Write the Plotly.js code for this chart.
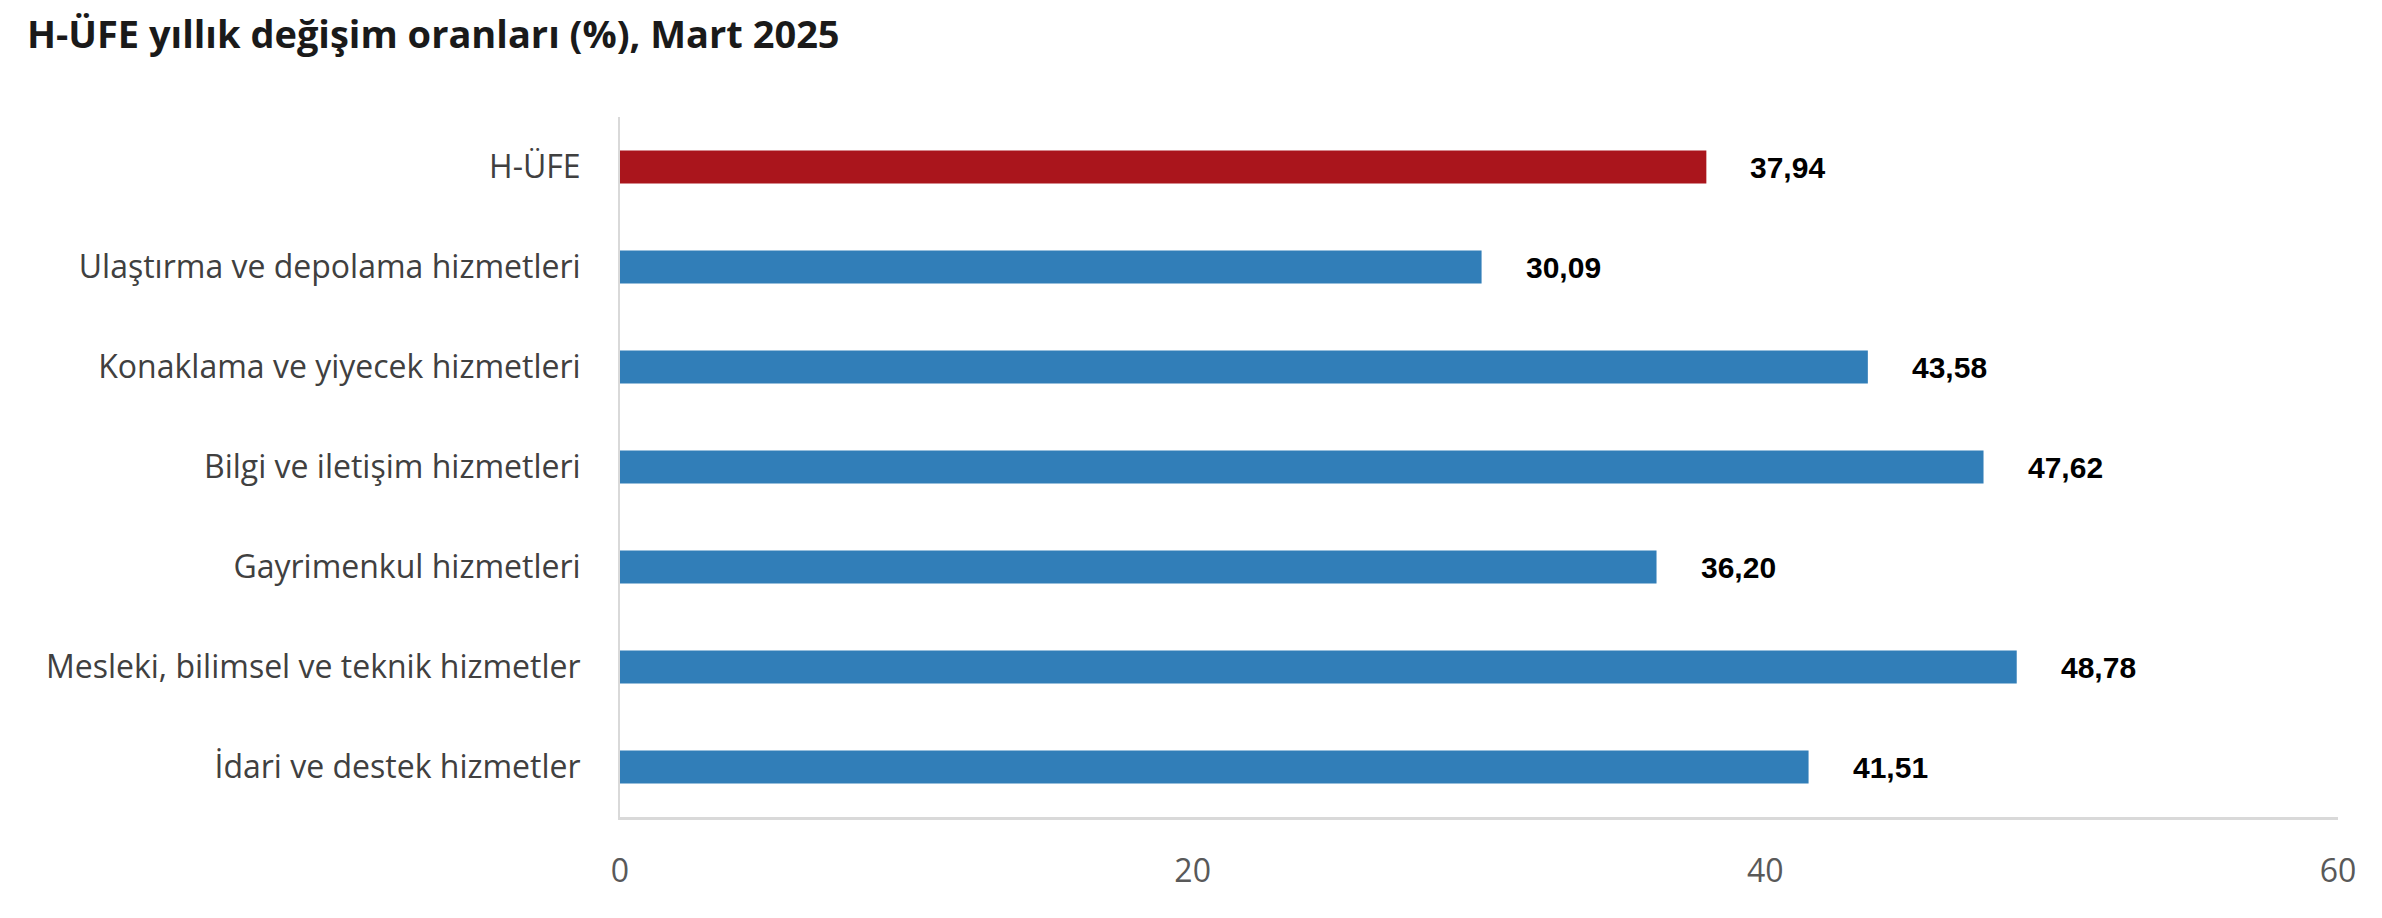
<!DOCTYPE html>
<html>
<head>
<meta charset="utf-8">
<script src="https://cdn.plot.ly/plotly-3.0.1.min.js"></script>
<style>
  html, body { margin: 0; padding: 0; background: #ffffff; }
  #chart { width: 2382px; height: 918px; }
</style>
</head>
<body>
<div id="chart"></div>
<script>
const categories = [
  "H-ÜFE",
  "Ulaştırma ve depolama hizmetleri",
  "Konaklama ve yiyecek hizmetleri",
  "Bilgi ve iletişim hizmetleri",
  "Gayrimenkul hizmetleri",
  "Mesleki, bilimsel ve teknik hizmetler",
  "İdari ve destek hizmetler"
];
const values = [37.94, 30.09, 43.58, 47.62, 36.20, 48.78, 41.51];
const barColors = ["#AA151C", "#317EB8", "#317EB8", "#317EB8", "#317EB8", "#317EB8", "#317EB8"];
const xTickValues = [0, 20, 40, 60];
const titleText = "H-ÜFE yıllık değişim oranları (%), Mart 2025";

const fmt = v => v.toFixed(2).replace('.', ',');

const trace = {
  type: 'bar',
  orientation: 'h',
  x: values,
  y: categories,
  width: 0.33,
  marker: { color: barColors },
  hoverinfo: 'skip'
};

const annotations = values.map((v, i) => ({
  x: v, y: categories[i], xref: 'x', yref: 'y',
  text: fmt(v), showarrow: false, xanchor: 'left', xshift: 42,
  font: { family: 'Liberation Sans, Arial, sans-serif', size: 30, color: '#000000', weight: 'bold' }
}));

const layout = {
  width: 2382, height: 918,
  paper_bgcolor: '#ffffff', plot_bgcolor: '#ffffff',
  margin: { l: 620, r: 44, t: 117, b: 101 },
  showlegend: false,
  title: {
    text: '<b>' + titleText + '</b>',
    x: 0.0113, xanchor: 'left', y: 0.962, yanchor: 'middle',
    font: { family: 'Open Sans, sans-serif', size: 38, color: '#1a1a1a' }
  },
  xaxis: {
    range: [0, 60], tickvals: xTickValues, ticktext: xTickValues.map(String),
    showgrid: false, zeroline: false,
    showline: true, linecolor: '#d9d9d9', linewidth: 3,
    ticks: '', ticklabelstandoff: 24,
    tickfont: { family: 'Open Sans, sans-serif', size: 32, color: '#595959' },
    fixedrange: true
  },
  yaxis: {
    type: 'category', autorange: 'reversed',
    showgrid: false, zeroline: false,
    showline: true, linecolor: '#d9d9d9', linewidth: 2,
    ticks: '', ticklabelstandoff: 31,
    tickfont: { family: 'Open Sans, sans-serif', size: 32, color: '#404040' },
    fixedrange: true
  },
  annotations: annotations
};

Plotly.newPlot('chart', [trace], layout, { displayModeBar: false, staticPlot: true });
</script>
</body>
</html>
